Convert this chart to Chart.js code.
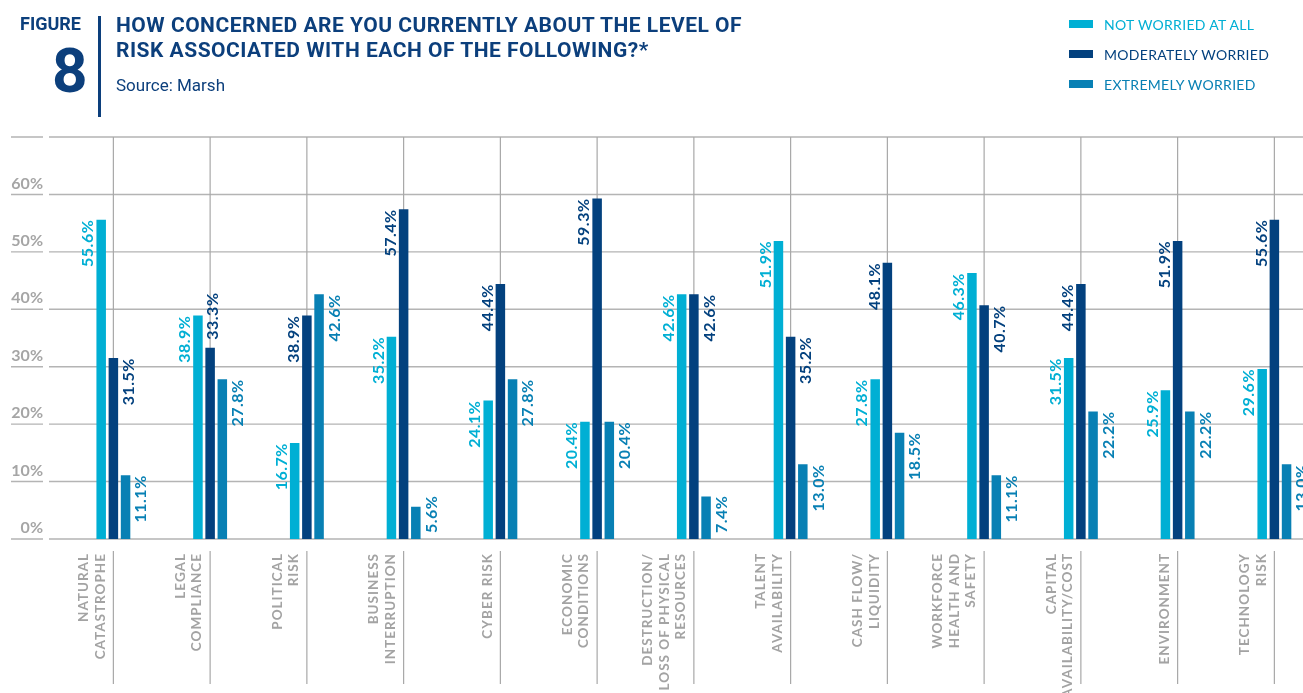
<!DOCTYPE html>
<html>
<head>
<meta charset="utf-8">
<title>Risk concern</title>
<script src="https://cdn.jsdelivr.net/npm/chart.js"></script>
<style>
  html, body { margin: 0; padding: 0; background: #fff; width: 1303px; height: 693px; overflow: hidden; }
  #wrap { position: absolute; left: 0; top: 0; width: 1330px; height: 693px; }
  .hdr { position: absolute; color: #0c3f7c; font-family: Roboto, sans-serif; white-space: nowrap; }
  #fig { left: 20px; top: 13px; font-size: 18px; font-weight: 700; }
  #num { left: 52px; top: 36px; font-size: 62px; font-weight: 700; line-height: 70px; }
  #rule { left: 98px; top: 16px; width: 3px; height: 101px; background: #0c3f7c; }
  #title { left: 116px; top: 13px; font-size: 21px; font-weight: 700; line-height: 25px; letter-spacing: 0.5px; }
  #src { left: 116px; top: 75px; font-size: 17px; font-weight: 400; }
  #legend { position: absolute; left: 1069px; top: 9px; font-family: Lato, sans-serif; }
  .row { height: 30px; display: flex; align-items: center; font-size: 14px; letter-spacing: 0.3px; }
  .sw { width: 24px; height: 8px; margin-right: 11px; }
</style>
</head>
<body>
<div id="wrap"><canvas id="riskChart" width="1330" height="693"></canvas></div>
<div class="hdr" id="fig">FIGURE</div>
<div class="hdr" id="num">8</div>
<div class="hdr" id="rule"></div>
<div class="hdr" id="title">HOW CONCERNED ARE YOU CURRENTLY ABOUT THE LEVEL OF<br>RISK ASSOCIATED WITH EACH OF THE FOLLOWING?*</div>
<div class="hdr" id="src">Source: Marsh</div>
<div id="legend"></div>
<script>
(() => {
  // categories, one array of lines per label
  const categories = [
    ["NATURAL", "CATASTROPHE"],
    ["LEGAL", "COMPLIANCE"],
    ["POLITICAL", "RISK"],
    ["BUSINESS", "INTERRUPTION"],
    ["CYBER RISK"],
    ["ECONOMIC", "CONDITIONS"],
    ["DESTRUCTION/", "LOSS OF PHYSICAL", "RESOURCES"],
    ["TALENT", "AVAILABILITY"],
    ["CASH FLOW/", "LIQUIDITY"],
    ["WORKFORCE", "HEALTH AND", "SAFETY"],
    ["CAPITAL", "AVAILABILITY/COST"],
    ["ENVIRONMENT"],
    ["TECHNOLOGY", "RISK"]
  ];
  const notWorried        = [55.6, 38.9, 16.7, 35.2, 24.1, 20.4, 42.6, 51.9, 27.8, 46.3, 31.5, 25.9, 29.6];
  const moderatelyWorried = [31.5, 33.3, 38.9, 57.4, 44.4, 59.3, 42.6, 35.2, 48.1, 40.7, 44.4, 51.9, 55.6];
  const extremelyWorried  = [11.1, 27.8, 42.6, 5.6, 27.8, 20.4, 7.4, 13.0, 18.5, 11.1, 22.2, 22.2, 13.0];
  const seriesNames = ["NOT WORRIED AT ALL", "MODERATELY WORRIED", "EXTREMELY WORRIED"];
  const yTicks = [0, 10, 20, 30, 40, 50, 60, 70];

  const seriesColors = ["#00afd4", "#03417e", "#0880b4"];
  // which side of its bar each value label sits on
  const labelSide = [
    Array(13).fill("left"),
    ["right", "above", "left", "left", "left", "left", "right", "right", "left", "right", "left", "left", "left"],
    Array(13).fill("right")
  ];

  // legend (html, top right)
  const legend = document.getElementById("legend");
  seriesNames.forEach((name, i) => {
    const row = document.createElement("div");
    row.className = "row";
    row.style.color = seriesColors[i];
    row.innerHTML = '<span class="sw" style="background:' + seriesColors[i] + '"></span>' + name;
    legend.appendChild(row);
  });

  // horizontal + vertical rules
  const gridPlugin = {
    id: "riskGrid",
    beforeDatasetsDraw(chart) {
      const { ctx, chartArea, scales: { x, y } } = chart;
      ctx.save();
      ctx.strokeStyle = "#b4b4b4";
      ctx.lineWidth = 1.4;
      yTicks.forEach(v => {
        const py = y.getPixelForValue(v);
        ctx.beginPath();
        ctx.moveTo(11, py); ctx.lineTo(43, py);
        ctx.moveTo(49, py); ctx.lineTo(chart.width, py);
        ctx.stroke();
      });
      ctx.strokeStyle = "#a8a8a8";
      ctx.lineWidth = 1.2;
      categories.forEach((c, i) => {
        const px = x.getPixelForValue(i);
        ctx.beginPath();
        ctx.moveTo(px, chartArea.top); ctx.lineTo(px, chartArea.bottom);
        ctx.moveTo(px, chartArea.bottom + 12); ctx.lineTo(px, 684);
        ctx.stroke();
      });
      ctx.restore();
    }
  };

  // rotated value labels next to the bars
  const valueLabelPlugin = {
    id: "valueLabels",
    afterDatasetsDraw(chart) {
      const { ctx, scales: { y } } = chart;
      const zeroY = y.getPixelForValue(0);
      ctx.save();
      ctx.font = "700 16px Lato";
      ctx.letterSpacing = "0.5px";
      ctx.textBaseline = "alphabetic";
      chart.data.datasets.forEach((ds, d) => {
        ctx.fillStyle = ds.backgroundColor;
        chart.getDatasetMeta(d).data.forEach((bar, i) => {
          const text = ds.data[i].toFixed(1) + "%";
          const w = ctx.measureText(text).width;
          const half = bar.width / 2;
          const side = labelSide[d][i];
          let bx, top, align = "right";
          if (side === "left") {
            bx = bar.x - half - 3; top = bar.y;
          } else if (side === "right") {
            bx = bar.x + half + 16; top = bar.y;
          } else {
            bx = bar.x + 8; top = bar.y - 8; align = "left";
          }
          if (align === "right") top = Math.min(top, zeroY - w - 6);
          ctx.save();
          ctx.translate(bx, top);
          ctx.rotate(-Math.PI / 2);
          ctx.textAlign = align;
          ctx.fillText(text, 0, 0);
          ctx.restore();
        });
      });
      ctx.restore();
    }
  };

  // category names, rotated, hanging under the axis left of each rule
  const xLabelPlugin = {
    id: "xLabels",
    afterDraw(chart) {
      const { ctx, chartArea, scales: { x } } = chart;
      ctx.save();
      ctx.font = "700 13.5px Lato";
      ctx.letterSpacing = "1px";
      ctx.fillStyle = "#a3a3a3";
      ctx.textAlign = "right";
      ctx.textBaseline = "middle";
      categories.forEach((lines, i) => {
        const px = x.getPixelForValue(i);
        lines.forEach((line, j) => {
          const cx = px - 13 - (lines.length - 1 - j) * 16.5;
          ctx.save();
          ctx.translate(cx, chartArea.bottom + 14);
          ctx.rotate(-Math.PI / 2);
          ctx.fillText(line, 0, 0);
          ctx.restore();
        });
      });
      ctx.restore();
    }
  };

  const ctx = document.getElementById("riskChart").getContext("2d");
  new Chart(ctx, {
    type: "bar",
    data: {
      labels: categories,
      datasets: [notWorried, moderatelyWorried, extremelyWorried].map((data, i) => ({
        label: seriesNames[i],
        data: data,
        backgroundColor: seriesColors[i],
        borderWidth: 0,
        categoryPercentage: 0.378,
        barPercentage: 0.78
      }))
    },
    options: {
      responsive: false,
      animation: false,
      layout: { padding: { top: 137, right: 7.25, left: 0, bottom: 0 } },
      plugins: {
        legend: { display: false },
        tooltip: { enabled: false }
      },
      scales: {
        x: {
          grid: { display: false },
          border: { display: false },
          ticks: { display: false },
          afterFit: (s) => { s.height = 154; }
        },
        y: {
          min: 0,
          max: 70,
          grid: { display: false, drawTicks: false },
          border: { display: false },
          ticks: {
            stepSize: 10,
            padding: 22,
            labelOffset: -11,
            color: "#a5a5a5",
            font: { family: "Lato", size: 16, weight: "bold" },
            callback: (v) => (v === 70 ? "" : v + "%")
          },
          afterFit: (s) => { s.width = 65; }
        }
      }
    },
    plugins: [gridPlugin, valueLabelPlugin, xLabelPlugin]
  });
})();
</script>
</body>
</html>
